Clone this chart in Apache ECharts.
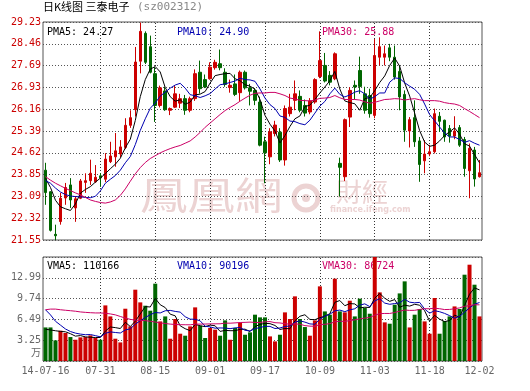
<!DOCTYPE html>
<html><head><meta charset="utf-8">
<script src="https://cdn.jsdelivr.net/npm/echarts@6/dist/echarts.min.js"></script>
<style>html,body{margin:0;padding:0;background:#fff}#c{width:530px;height:391px}</style>
</head><body><div id="c"></div>
<script>
const tickIdx = [0, 11, 22, 33, 44, 55, 66, 77, 87];
const tickLabels = ['14-07-16', '07-31', '08-15', '09-01', '09-17', '10-09', '11-03', '11-18', '12-02'];
const vGridIdx = [11, 22, 33, 44, 55, 66, 77];
const opens = [24.01,23.25,21.75,22.20,23.03,23.49,22.68,23.02,23.58,23.64,23.60,23.81,23.69,24.31,24.48,24.58,24.81,25.59,26.14,27.85,28.83,28.36,27.41,26.29,26.80,26.12,26.23,26.37,26.53,26.12,26.53,27.46,27.20,27.23,27.62,27.76,27.46,26.92,27.05,26.74,27.46,26.91,26.82,26.41,25.01,24.48,25.30,25.35,24.37,26.00,26.47,26.61,26.29,26.06,26.41,27.31,27.70,27.35,27.23,24.25,23.78,25.88,27.00,27.52,26.70,26.64,25.94,27.99,27.99,28.32,27.99,27.49,26.68,25.39,25.86,25.04,24.34,24.58,24.66,25.91,25.77,25.48,25.21,25.51,25.09,23.99,24.72,23.78];
const closes = [23.22,21.89,21.70,23.02,23.40,22.96,23.00,23.63,23.64,23.90,23.76,23.74,24.40,24.51,24.69,24.83,25.59,25.86,27.82,28.90,27.81,27.46,26.29,26.91,26.14,26.18,26.70,26.53,26.12,26.53,27.41,26.88,26.94,27.64,27.81,27.62,27.03,27.00,26.68,27.46,26.91,26.79,26.47,24.89,24.62,25.36,25.60,24.37,26.18,26.23,26.70,26.12,26.02,26.45,27.20,27.87,27.15,27.11,28.11,24.11,25.79,26.82,26.94,26.96,26.12,26.00,28.05,28.36,28.11,27.99,27.29,26.59,25.42,25.79,25.01,24.21,24.58,24.66,26.00,25.73,25.18,25.21,25.39,24.89,24.07,24.78,23.70,23.92];
const lows = [22.79,21.85,21.55,22.09,22.79,22.68,22.19,22.99,23.21,23.49,23.56,23.42,23.59,24.26,24.13,24.47,24.75,25.50,25.90,27.42,27.75,27.42,25.71,26.22,26.10,25.95,26.20,26.20,25.96,26.05,26.45,26.71,26.90,27.20,27.55,27.53,26.95,26.74,26.62,26.45,26.85,26.29,26.30,24.85,23.55,24.22,25.20,24.30,24.17,25.90,26.12,26.05,25.90,25.98,26.35,27.25,27.10,27.00,27.18,23.08,23.63,25.53,26.50,26.70,26.00,25.86,25.84,27.70,27.70,27.85,27.20,26.12,25.01,24.81,24.83,23.60,23.90,24.50,24.60,25.36,25.01,24.98,25.10,24.83,23.78,23.02,23.43,23.75];
const highs = [24.27,23.27,22.09,23.21,23.56,23.73,23.10,23.70,23.90,24.38,24.19,23.91,24.61,25.01,25.32,25.07,25.84,26.12,28.35,29.21,28.90,28.75,27.64,26.99,26.95,26.22,26.99,26.70,26.66,26.60,27.56,27.87,27.38,27.81,27.90,28.26,27.60,27.20,27.38,27.52,27.52,27.05,26.90,26.60,25.19,25.49,25.75,25.49,26.29,26.70,27.17,26.82,26.50,26.55,27.25,28.90,28.14,27.50,28.16,24.45,25.83,26.93,27.17,28.01,26.95,26.88,28.63,28.69,28.40,28.46,28.40,27.70,26.82,25.88,26.47,25.18,25.07,24.90,26.18,26.06,25.79,25.60,25.91,25.60,25.18,24.95,24.83,24.37];
const ma5 = [23.72,23.40,22.95,22.72,22.65,22.59,22.82,23.20,23.33,23.43,23.59,23.73,23.89,24.06,24.22,24.43,24.80,25.10,25.76,26.60,27.20,27.57,27.66,27.47,26.92,26.60,26.44,26.49,26.33,26.41,26.66,26.69,26.78,27.08,27.34,27.38,27.41,27.42,27.23,27.16,27.02,26.97,26.86,26.50,25.94,25.63,25.39,24.97,25.23,25.55,25.82,25.92,26.25,26.30,26.50,26.73,26.94,27.16,27.49,26.87,26.45,26.39,26.35,26.12,26.53,26.57,26.81,27.10,27.33,27.70,27.96,27.67,27.08,26.62,26.02,25.40,25.00,24.85,24.89,25.04,25.23,25.36,25.50,25.28,24.94,24.86,24.56,24.27];
const ma10 = [23.64,23.55,23.38,23.24,23.15,23.10,23.08,23.07,23.05,23.04,23.09,23.28,23.55,23.69,23.82,24.01,24.27,24.49,24.91,25.41,25.82,26.19,26.38,26.62,26.76,26.90,27.01,27.07,26.90,26.67,26.63,26.57,26.63,26.71,26.87,27.02,27.05,27.10,27.15,27.25,27.20,27.19,27.14,26.87,26.55,26.32,26.18,25.92,25.87,25.74,25.72,25.65,25.61,25.77,26.02,26.27,26.43,26.70,26.90,26.68,26.59,26.66,26.76,26.81,26.70,26.51,26.60,26.73,26.73,27.11,27.26,27.24,27.09,26.97,26.86,26.68,26.34,25.97,25.75,25.53,25.32,25.18,25.18,25.09,24.99,25.05,24.96,24.89];
const ma30 = [23.78,23.66,23.55,23.46,23.37,23.29,23.21,23.14,23.05,22.96,22.91,22.87,22.85,22.89,22.96,23.12,23.35,23.62,23.88,24.10,24.28,24.42,24.52,24.62,24.70,24.77,24.83,24.88,24.96,25.04,25.18,25.34,25.52,25.67,25.82,25.97,26.11,26.22,26.32,26.44,26.55,26.65,26.72,26.73,26.73,26.75,26.75,26.70,26.64,26.55,26.52,26.47,26.46,26.45,26.48,26.54,26.55,26.57,26.64,26.56,26.50,26.50,26.50,26.48,26.42,26.37,26.40,26.45,26.50,26.51,26.53,26.52,26.48,26.51,26.53,26.49,26.46,26.46,26.46,26.44,26.39,26.36,26.34,26.29,26.18,26.08,25.97,25.86];
const vol = [5.24,5.24,3.22,4.73,4.37,3.74,3.32,3.69,3.74,4.00,3.59,3.32,8.68,6.96,3.48,2.90,8.16,5.40,11.13,9.15,8.63,7.85,12.07,6.18,6.96,3.48,6.56,4.26,3.95,5.40,8.37,5.51,3.59,5.15,4.89,3.95,6.34,3.32,5.15,5.93,4.10,4.47,7.23,6.81,6.81,3.84,3.06,4.10,7.59,6.56,10.09,6.56,5.30,3.95,6.34,11.65,7.74,7.23,12.85,7.74,7.59,9.41,6.96,9.73,8.27,7.38,16.60,10.71,6.03,5.82,8.79,10.55,12.43,5.24,7.23,8.12,6.18,4.26,9.83,4.26,6.24,6.96,8.52,8.12,13.47,15.03,11.91,6.96];
const vma5 = [4.95,4.85,4.72,4.62,4.56,4.26,3.88,3.97,3.77,3.70,3.67,3.67,4.67,5.31,5.21,5.07,6.04,5.38,6.21,7.35,8.49,8.43,9.77,8.78,8.34,7.31,7.05,5.49,5.04,4.73,5.71,5.50,5.36,5.60,5.50,4.62,4.78,4.73,4.73,4.94,4.97,4.59,5.38,5.71,5.88,5.83,5.55,4.92,5.08,5.03,6.28,6.98,7.22,6.49,6.45,6.76,7.00,7.38,9.16,9.44,8.63,8.96,8.91,8.29,8.39,8.35,9.79,10.54,9.80,9.31,9.59,8.38,8.72,8.57,8.85,8.71,7.84,6.21,7.12,6.53,6.15,6.31,7.16,6.82,8.66,10.42,11.41,11.10];
const vma10 = [8.00,7.20,6.20,5.60,5.00,4.60,4.35,4.20,4.10,4.13,3.96,3.77,4.32,4.54,4.45,4.37,4.85,5.02,5.76,6.28,6.78,7.23,7.57,7.50,7.84,7.90,7.74,7.63,6.91,6.53,6.51,6.27,5.43,5.32,5.12,5.16,5.14,5.05,5.17,5.22,4.79,4.69,5.05,5.22,5.41,5.40,5.07,5.15,5.39,5.46,6.06,6.27,6.07,5.79,5.74,6.52,6.99,7.30,7.83,7.95,7.70,7.98,8.15,8.72,8.92,8.49,9.38,9.72,9.04,8.85,8.97,9.08,9.63,9.18,9.08,9.15,8.11,7.47,7.85,7.69,7.43,7.08,6.68,6.97,7.60,8.29,8.86,9.13];
const vma30 = [8.00,8.10,8.10,8.00,7.92,7.85,7.77,7.66,7.59,7.54,7.50,7.50,7.45,7.35,7.20,6.95,6.70,6.50,6.38,6.34,6.30,6.20,6.08,5.95,5.85,5.76,5.70,5.67,5.66,5.65,5.75,5.76,5.77,5.79,5.80,5.81,5.91,5.90,5.95,6.01,6.03,6.07,6.02,6.01,6.12,6.15,5.98,5.94,5.82,5.74,5.79,5.74,5.52,5.44,5.42,5.69,5.73,5.83,6.13,6.21,6.18,6.31,6.42,6.58,6.69,6.80,7.15,7.39,7.42,7.42,7.57,7.78,7.95,7.90,7.91,8.05,8.16,8.16,8.24,8.16,8.03,8.05,8.15,8.29,8.53,8.64,8.78,8.77];

const priceMin = 21.55, priceMax = 29.23, priceStep = 0.768;
const volMin = 0, volMax = 16.233, volStep = 3.2466;
const maTexts = ['PMA5: 24.27', 'PMA10: 24.90', 'PMA30: 25.88'];
const vmaTexts = ['VMA5: 110166', 'VMA10: 90196', 'VMA30: 86724'];
const titleMain = '日K线图 三泰电子';
const titleCode = '(sz002312)';
const volUnit = '万';

const RED = '#cc0000', GREEN = '#006600', BLUE = '#0000b0', MAG = '#cc0066';
const MONO = '"DejaVu Sans Mono", monospace';
const dotted = { color: '#555', type: [1, 2], width: 1 };
const vDotted = { color: '#333', type: [1, 2], width: 1 };
const cats = opens.map((_, i) => String(i));
const kData = opens.map((o, i) => [o, closes[i], lows[i], highs[i]]);
const volData = vol.map((v, i) => ({ value: v, itemStyle: { color: closes[i] >= opens[i] ? RED : GREEN } }));

// vertical dotted guides at the centres of the labelled categories
const vLines = {
  symbol: ['none', 'none'], silent: true, animation: false,
  label: { show: false }, emphasis: { disabled: true },
  lineStyle: vDotted, z: 1,
  data: vGridIdx.map(i => ({ xAxis: cats[i] }))
};

function lineSeries(data, color, xi, yi) {
  return { type: 'line', data, xAxisIndex: xi, yAxisIndex: yi, showSymbol: false, symbol: 'none',
    lineStyle: { color, width: 1 }, itemStyle: { color }, silent: true, z: 3 };
}
const catAxis = (gi, show) => ({
  type: 'category', gridIndex: gi, data: cats, boundaryGap: true,
  axisLine: { show: false }, axisTick: { show: false }, splitLine: { show: false },
  axisLabel: show ? {
    show: true, color: '#666', fontFamily: MONO, fontSize: 10, margin: 5,
    interval: (i) => tickIdx.includes(i),
    formatter: (v, i) => { const k = tickIdx.indexOf(i); return k >= 0 ? tickLabels[k] : ''; }
  } : { show: false }
});

const chart = echarts.init(document.getElementById('c'), null, { renderer: 'canvas' });
chart.setOption({
  animation: false,
  backgroundColor: '#fff',
  grid: [
    { left: 43, top: 22, width: 439, height: 218, show: true, borderColor: '#555', borderWidth: 1, backgroundColor: 'rgba(0,0,0,0)', outerBoundsMode: 'none' },
    { left: 43, top: 257, width: 439, height: 104, show: true, borderColor: '#555', borderWidth: 1, backgroundColor: 'rgba(0,0,0,0)', outerBoundsMode: 'none' }
  ],
  xAxis: [catAxis(0, false), catAxis(1, true)],
  yAxis: [
    { type: 'value', gridIndex: 0, min: priceMin, max: priceMax, interval: priceStep, scale: true,
      axisLine: { show: false }, axisTick: { show: false },
      axisLabel: { color: RED, fontFamily: MONO, fontSize: 10, margin: 2, formatter: v => v.toFixed(2) },
      splitLine: { show: true, lineStyle: dotted } },
    { type: 'value', gridIndex: 1, min: volMin, max: volMax, interval: volStep,
      axisLine: { show: false }, axisTick: { show: false },
      axisLabel: { color: '#666', fontFamily: MONO, fontSize: 10, margin: 2,
        formatter: v => (v <= 0.01 || v > volMax - 0.01) ? '' : v.toFixed(2) },
      splitLine: { show: true, lineStyle: dotted } }
  ],
  series: [
    { type: 'candlestick', xAxisIndex: 0, yAxisIndex: 0, data: kData, barWidth: 3, silent: true,
      itemStyle: { color: RED, color0: GREEN, borderColor: RED, borderColor0: GREEN, borderWidth: 1 },
      markLine: vLines, z: 2 },
    lineSeries(ma5, '#000', 0, 0),
    lineSeries(ma10, BLUE, 0, 0),
    lineSeries(ma30, MAG, 0, 0),
    { type: 'bar', xAxisIndex: 1, yAxisIndex: 1, data: volData, barWidth: 4, silent: true, z: 2, markLine: vLines },
    lineSeries(vma5, '#000', 1, 1),
    lineSeries(vma10, BLUE, 1, 1),
    lineSeries(vma30, MAG, 1, 1)
  ],
  graphic: [
    { type: 'text', x: 43, y: 7, z: 10, style: { text: titleMain, fill: '#000', font: '11px "Noto Sans CJK SC"', verticalAlign: 'middle' } },
    { type: 'text', x: 137, y: 7, z: 10, style: { text: titleCode, fill: '#888', font: '11px ' + MONO, verticalAlign: 'middle' } },
    { type: 'text', x: 140, y: 195, z: 0, scaleX: 1.25, style: { text: '鳳凰網', fill: '#ecd3d3', font: '38px "Noto Sans CJK TC"', verticalAlign: 'middle' } },
    { type: 'circle', z: 0, shape: { cx: 306, cy: 198, r: 12 }, style: { fill: 'none', stroke: '#ecd3d3', lineWidth: 5 } },
    { type: 'circle', z: 0, shape: { cx: 306, cy: 198, r: 4 }, style: { fill: '#ecd3d3' } },
    { type: 'text', x: 336, y: 192, z: 0, style: { text: '財經', fill: '#ecd3d3', font: '26px "Noto Sans CJK TC"', verticalAlign: 'middle' } },
    { type: 'text', x: 330, y: 210, z: 0, style: { text: 'finance.ifeng.com', fill: '#ecd3d3', font: 'bold 8px "DejaVu Sans"', verticalAlign: 'middle' } },
    { type: 'text', x: 47, y: 32, z: 1, style: { text: maTexts[0], fill: '#000', font: '10px ' + MONO, verticalAlign: 'middle' } },
    { type: 'text', x: 177, y: 32, z: 1, style: { text: maTexts[1], fill: BLUE, font: '10px ' + MONO, verticalAlign: 'middle' } },
    { type: 'text', x: 322, y: 32, z: 1, style: { text: maTexts[2], fill: MAG, font: '10px ' + MONO, verticalAlign: 'middle' } },
    { type: 'text', x: 47, y: 266, z: 1, style: { text: vmaTexts[0], fill: '#000', font: '10px ' + MONO, verticalAlign: 'middle' } },
    { type: 'text', x: 177, y: 266, z: 1, style: { text: vmaTexts[1], fill: BLUE, font: '10px ' + MONO, verticalAlign: 'middle' } },
    { type: 'text', x: 322, y: 266, z: 1, style: { text: vmaTexts[2], fill: MAG, font: '10px ' + MONO, verticalAlign: 'middle' } },
    { type: 'text', x: 41, y: 352, z: 10, style: { text: volUnit, fill: '#666', font: '10px "Noto Sans CJK SC"', align: 'right', verticalAlign: 'middle' } }
  ]
});
</script>
</body></html>
